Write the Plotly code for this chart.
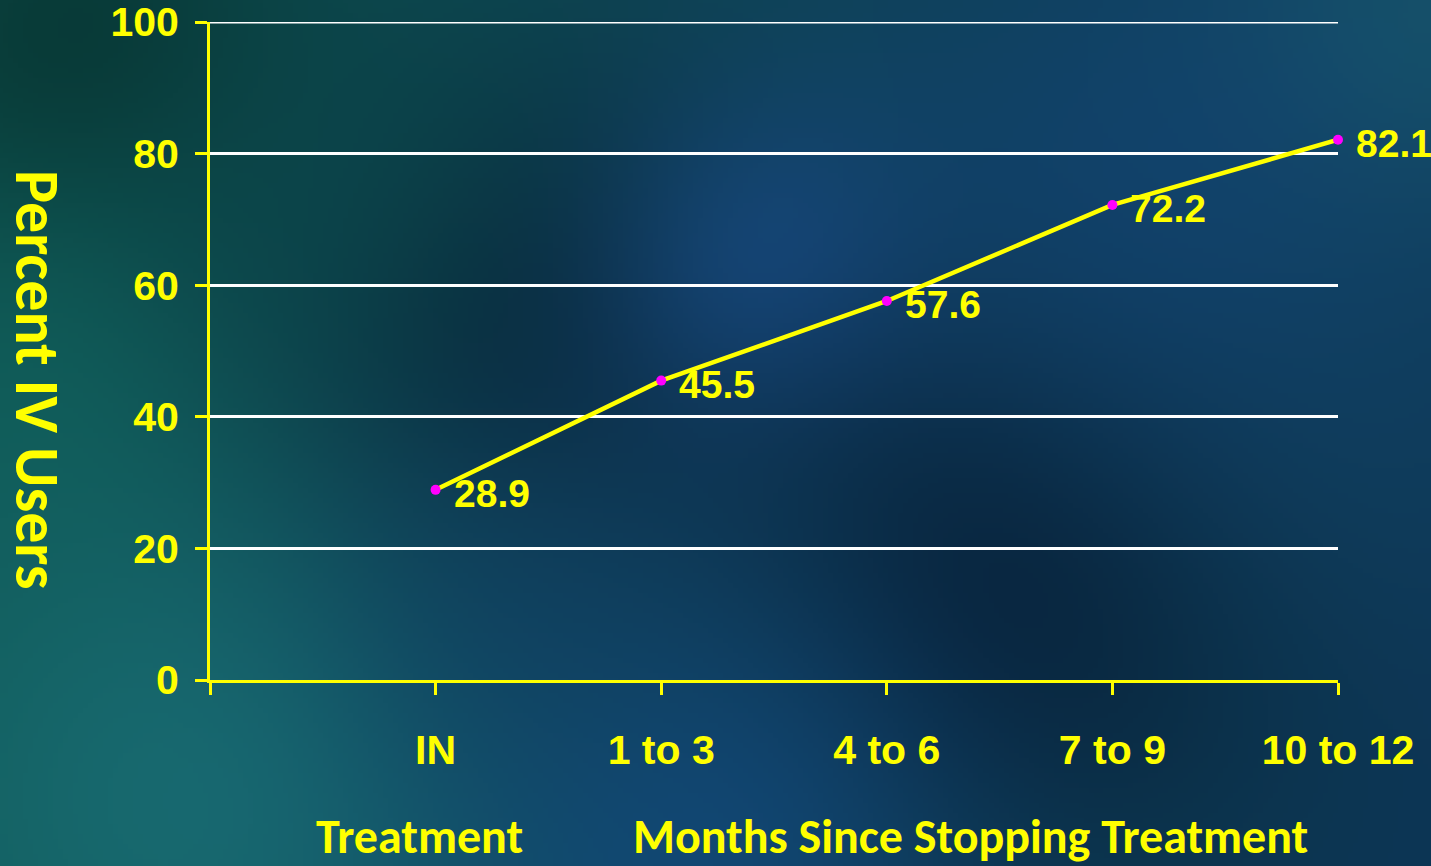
import base64, zlib, struct
import numpy as np
import plotly.graph_objects as go

# ---------------- data ----------------
categories = ["IN", "1 to 3", "4 to 6", "7 to 9", "10 to 12"]
percent_iv_users = [28.9, 45.5, 57.6, 72.2, 82.1]
y_ticks = [0, 20, 40, 60, 80, 100]

# ---------------- background image (decorative gradient) ----------------
W, H = 1431, 866
w, h = 286, 173
xs = np.linspace(0, W, w)[None, :]
ys = np.linspace(0, H, h)[:, None]

def hx(c):
    c = c.lstrip("#")
    return np.array([int(c[i:i + 2], 16) for i in (0, 2, 4)], dtype=float)

left = hx("#0f5654"); right = hx("#0d3656")
t = (xs / W)[..., None]
img = left * (1 - t) + right * t
img = np.broadcast_to(img, (h, w, 3)).copy()
blobs = [
    (80, 60, 170, "#06302c", 0.8),
    (60, 380, 150, "#10605a", 0.7),
    (560, 340, 190, "#061a2c", 0.85),
    (780, 280, 140, "#1c5292", 0.75),
    (1000, 590, 210, "#061a2e", 0.85),
    (200, 800, 230, "#1a7076", 0.8),
    (1410, 40, 160, "#1a6070", 0.7),
    (1400, 430, 200, "#10405e", 0.6),
    (700, 840, 200, "#13497e", 0.75),
    (1150, 180, 200, "#134474", 0.65),
    (330, 180, 160, "#0c4a4e", 0.5),
    (520, 600, 140, "#103e62", 0.5),
]
for bx, by, s, col, a in blobs:
    wgt = a * np.exp(-((xs - bx) ** 2 + (ys - by) ** 2) / (2 * s ** 2))
    img = img * (1 - wgt[..., None]) + hx(col) * wgt[..., None]
img = np.clip(img, 0, 255).astype(np.uint8)

def to_png(a):
    hh, ww, _ = a.shape
    raw = b"".join(b"\x00" + a[r].tobytes() for r in range(hh))
    def chunk(tag, data):
        return struct.pack(">I", len(data)) + tag + data + struct.pack(">I", zlib.crc32(tag + data) & 0xffffffff)
    return (b"\x89PNG\r\n\x1a\n" + chunk(b"IHDR", struct.pack(">IIBBBBB", ww, hh, 8, 2, 0, 0, 0))
            + chunk(b"IDAT", zlib.compress(raw, 9)) + chunk(b"IEND", b""))

bg_src = "data:image/png;base64," + base64.b64encode(to_png(img)).decode()

# ---------------- layout geometry ----------------
ML, MR, MT, MB = 210, 93, 22, 186
PW, PH = W - ML - MR, H - MT - MB

YELLOW = "#ffff00"
NUM_FONT = "Liberation Sans Narrow, Arial Narrow, Liberation Sans, Arial"
NUM_SIZE = 41
LABEL_SIZE = 39
TITLE_FONT = "Carlito, Calibri, Lato, Open Sans, sans-serif"

x_pos = list(range(len(categories)))

fig = go.Figure()
fig.add_trace(go.Scatter(
    x=x_pos, y=percent_iv_users, mode="lines+markers",
    line=dict(color=YELLOW, width=4.5),
    marker=dict(color="#ff00ff", size=10),
    hoverinfo="skip", showlegend=False, cliponaxis=False,
))

for xv, yv in zip(x_pos, percent_iv_users):
    fig.add_annotation(x=xv, y=yv, text=f"<b>{yv}</b>", showarrow=False,
                       xanchor="left", yanchor="middle", xshift=16, yshift=-4,
                       font=dict(family=NUM_FONT, size=LABEL_SIZE, color=YELLOW))

fig.add_annotation(xref="paper", yref="paper", x=(37 - ML) / PW, y=1 - (380 - MT) / PH,
                   text="<b>Percent IV Users</b>", textangle=90, showarrow=False,
                   xanchor="center", yanchor="middle",
                   font=dict(family=TITLE_FONT, size=62, color=YELLOW))
fig.add_annotation(xref="paper", yref="paper", x=(419 - ML) / PW, y=1 - (836 - MT) / PH,
                   text="<b>Treatment</b>", showarrow=False,
                   xanchor="center", yanchor="middle",
                   font=dict(family=TITLE_FONT, size=48, color=YELLOW))
fig.add_annotation(xref="paper", yref="paper", x=(970 - ML) / PW, y=1 - (836 - MT) / PH,
                   text="<b>Months Since Stopping Treatment</b>", showarrow=False,
                   xanchor="center", yanchor="middle",
                   font=dict(family=TITLE_FONT, size=48, color=YELLOW))

# top gridline (Plotly omits gridlines lying on the range edge)
fig.add_shape(type="line", xref="paper", yref="y", x0=0, x1=1, y0=y_ticks[-1], y1=y_ticks[-1],
              line=dict(color="#ffffff", width=3), layer="below")

fig.update_xaxes(
    range=[-1, len(categories) - 1], tickmode="array",
    tickvals=[-1] + x_pos, ticktext=[""] + [f"<b>{c}</b>" for c in categories],
    showgrid=False, zeroline=False, showline=True, linecolor=YELLOW, linewidth=3,
    ticks="outside", ticklen=12, tickwidth=3, tickcolor=YELLOW,
    tickfont=dict(family=NUM_FONT, size=NUM_SIZE, color=YELLOW), ticklabelstandoff=20,
    ticklabeloverflow="allow", automargin=False, fixedrange=True,
)
fig.update_yaxes(
    range=[0, 100], tickmode="array", tickvals=y_ticks,
    ticktext=[f"<b>{v}</b>" for v in y_ticks],
    showgrid=True, gridcolor="#ffffff", gridwidth=3, zeroline=False,
    showline=True, linecolor=YELLOW, linewidth=3,
    ticks="outside", ticklen=12, tickwidth=3, tickcolor=YELLOW,
    tickfont=dict(family=NUM_FONT, size=NUM_SIZE, color=YELLOW), ticklabelstandoff=8,
    ticklabeloverflow="allow", automargin=False, fixedrange=True,
)

fig.add_layout_image(dict(
    source=bg_src, xref="paper", yref="paper",
    x=-ML / PW, y=1 + MT / PH, sizex=W / PW, sizey=H / PH,
    xanchor="left", yanchor="top", sizing="stretch", layer="below",
))

fig.update_layout(
    width=W, height=H, autosize=False,
    margin=dict(l=ML, r=MR, t=MT, b=MB, pad=0, autoexpand=False),
    paper_bgcolor="#0c3a4a", plot_bgcolor="rgba(0,0,0,0)",
    showlegend=False,
)

fig.write_html("out.html", config={"displayModeBar": False})
